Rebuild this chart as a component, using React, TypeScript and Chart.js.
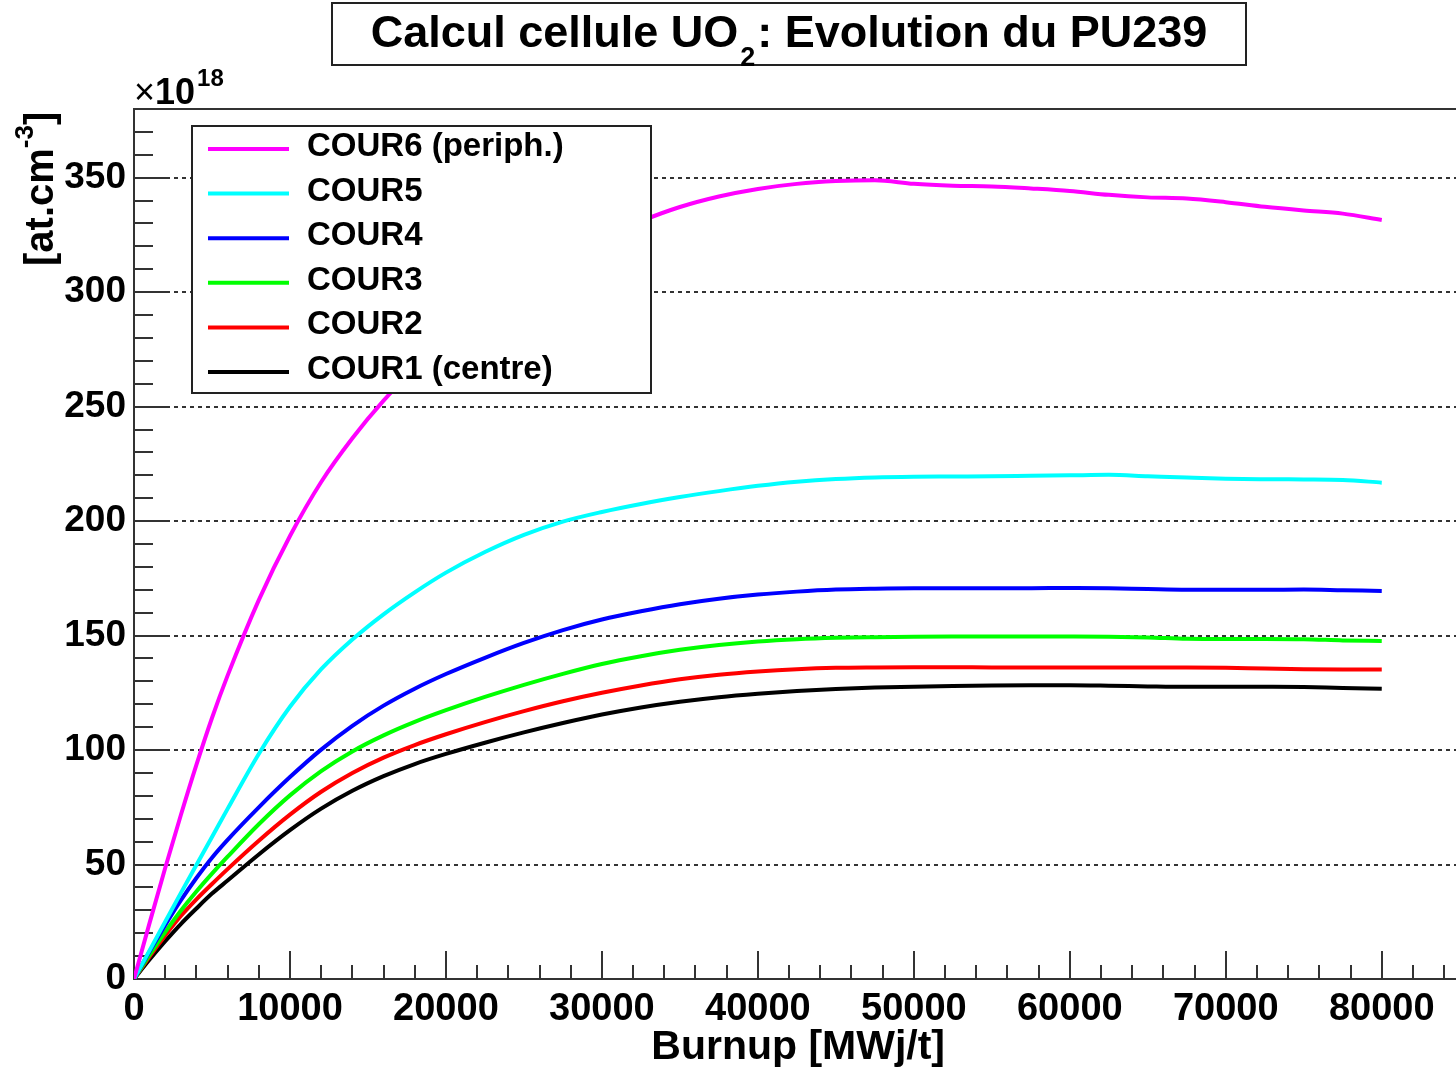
import { useEffect, useRef } from "react";
import { Chart, registerables } from "chart.js";

Chart.register(...registerables);

const FONT = '"Liberation Sans", Arial, Helvetica, sans-serif';

// Burnup grid [MWj/t]
const burnup = [
  0, 1000, 2000, 3000, 4000, 5000, 6000, 8000, 10000, 12000, 14000, 16000, 18000, 20000,
  22500, 25000, 27500, 30000, 32500, 35000, 37500, 40000, 42500, 45000, 47500, 50000,
  52500, 55000, 57500, 60000, 62500, 65000, 67500, 70000, 72500, 75000, 77500, 80000,
];

// Pu239 concentration per ring [1e18 at/cm3]
const cour6 = [
  0, 24.5, 48.5, 71.5, 93.5, 114, 132.5, 165.5, 193.5, 217.1, 236.2, 252.6, 266.8, 279.6, 293,
  305, 315, 323.5, 331, 337.2, 341.8, 345.1, 347.3, 348.5, 348.9, 347.3, 346.5, 346.2, 345.3,
  344.2, 342.5, 341.4, 340.9, 339.3, 337.3, 335.7, 334.3, 331.5,
];
const cour5 = [
  0, 12.5, 25, 37.5, 49.8, 62, 74.3, 98.3, 118.9, 135.3, 148.3, 159.3, 168.9, 177.5, 186.5,
  194, 199.8, 204, 207.5, 210.5, 213.1, 215.4, 217.2, 218.4, 219.1, 219.4, 219.5, 219.6, 219.8,
  220, 220.2, 219.6, 219, 218.5, 218.3, 218.2, 218, 216.8,
];
const cour4 = [
  0, 12, 23.5, 34.3, 44.1, 53, 60.8, 75, 88.2, 100.2, 110.6, 119.4, 126.8, 133.2, 140.3, 146.8,
  152.4, 157, 160.6, 163.7, 166.1, 167.9, 169.2, 170.1, 170.5, 170.7, 170.7, 170.7, 170.7,
  170.8, 170.7, 170.3, 170, 170, 170, 170.1, 169.8, 169.5,
];
const cour3 = [
  0, 10.5, 20.5, 29.8, 38.2, 46, 53.4, 67.6, 80.2, 90.8, 99.4, 106.4, 112.3, 117.4, 123.2,
  128.5, 133.3, 137.6, 141, 143.8, 145.9, 147.4, 148.4, 149, 149.3, 149.5, 149.6, 149.6, 149.6,
  149.6, 149.5, 149.2, 148.6, 148.5, 148.5, 148.4, 147.9, 147.6,
];
const cour2 = [
  0, 9.8, 19, 27.5, 34.8, 41.5, 48, 60.4, 71.8, 81.8, 90, 96.7, 102.2, 106.9, 112.2, 117,
  121.3, 125, 128.2, 130.9, 132.9, 134.3, 135.3, 135.9, 136.1, 136.2, 136.2, 136.1, 136.1,
  136.1, 136.1, 136.1, 136.1, 136, 135.6, 135.3, 135.2, 135.2,
];
const cour1 = [
  0, 8.5, 16.5, 24, 30.8, 37.3, 43, 54.4, 65, 74.4, 82.2, 88.6, 93.9, 98.3, 103.2, 107.7,
  111.8, 115.5, 118.6, 121.1, 123.1, 124.6, 125.8, 126.7, 127.3, 127.7, 128, 128.2, 128.3,
  128.3, 128.1, 127.8, 127.6, 127.6, 127.6, 127.5, 127.1, 126.8,
];

const seriesLabels = ["COUR6 (periph.)", "COUR5", "COUR4", "COUR3", "COUR2", "COUR1 (centre)"];
const seriesColors = ["#ff00ff", "#00ffff", "#0000ff", "#00ff00", "#ff0000", "#000000"];
const seriesValues = [cour6, cour5, cour4, cour3, cour2, cour1];

// labelled axis ticks
const xTickValues = [0, 10000, 20000, 30000, 40000, 50000, 60000, 70000, 80000];
const yTickValues = [0, 50, 100, 150, 200, 250, 300, 350];

const titleMain = "Calcul cellule UO";
const titleSub = "2";
const titleRest = ": Evolution du PU239";
const xTitle = "Burnup [MWj/t]";
const yTitleMain = "[at.cm";
const yTitleSup = "-3";
const yTitleEnd = "]";
const exponentBase = "10";
const exponentPow = "18";

const X_MAX = 84760;
const Y_MAX = 380;
const X_MAJOR = 10000;
const X_MINOR = 2000;
const Y_MAJOR = 50;
const Y_MINOR = 10;

function line(ctx: CanvasRenderingContext2D, x1: number, y1: number, x2: number, y2: number) {
  ctx.beginPath();
  ctx.moveTo(x1, y1);
  ctx.lineTo(x2, y2);
  ctx.stroke();
}

const font = (size: number, weight = "bold") => `${weight} ${size}px ${FONT}`;

const rootFrame = {
  id: "rootFrame",
  beforeDatasetsDraw(chart: any) {
    const { ctx, chartArea: a } = chart;
    const xs = chart.scales.x;
    const ys = chart.scales.y;
    ctx.save();

    // dotted horizontal grid at the labelled y ticks
    ctx.strokeStyle = "#333";
    ctx.lineWidth = 2;
    ctx.setLineDash([4, 4]);
    for (const t of ys.ticks) {
      if (t.value === 0) continue;
      const py = Math.round(ys.getPixelForValue(t.value));
      line(ctx, a.left, py, a.right, py);
    }
    ctx.setLineDash([]);

    // inward ticks
    for (let v = 0; v <= X_MAX; v += X_MINOR) {
      const px = Math.round(xs.getPixelForValue(v));
      const len = v % X_MAJOR === 0 ? 28 : 14;
      line(ctx, px, a.bottom, px, a.bottom - len);
    }
    for (let v = 0; v <= Y_MAX; v += Y_MINOR) {
      const py = Math.round(ys.getPixelForValue(v));
      const len = v % Y_MAJOR === 0 ? 36 : 19;
      line(ctx, a.left, py, a.left + len, py);
    }
    // top edge of the frame
    line(ctx, a.left, a.top, a.right, a.top);
    ctx.restore();
  },
  afterDraw(chart: any) {
    const { ctx, chartArea: a } = chart;
    ctx.save();

    // legend box
    const lx = a.left + 58;
    const ly = a.top + 17;
    const lw = 459;
    const lh = 267;
    ctx.fillStyle = "#fff";
    ctx.fillRect(lx, ly, lw, lh);
    ctx.strokeStyle = "#222";
    ctx.lineWidth = 2;
    ctx.strokeRect(lx, ly, lw, lh);
    chart.data.datasets.forEach((ds: any, i: number) => {
      const ry = ly + 23 + i * 44.6;
      ctx.strokeStyle = ds.borderColor;
      ctx.lineWidth = 4;
      line(ctx, lx + 16, ry, lx + 97, ry);
      ctx.fillStyle = "#000";
      ctx.font = font(33);
      ctx.textAlign = "left";
      ctx.textBaseline = "middle";
      ctx.fillText(ds.label, lx + 115, ry - 2);
    });

    // title box
    const tx = 332;
    const ty = 3;
    const tw = 914;
    const th = 62;
    ctx.fillStyle = "#fff";
    ctx.fillRect(tx, ty, tw, th);
    ctx.strokeStyle = "#222";
    ctx.lineWidth = 2;
    ctx.strokeRect(tx, ty, tw, th);
    ctx.fillStyle = "#000";
    ctx.textBaseline = "alphabetic";
    ctx.textAlign = "left";
    ctx.font = font(45);
    const w1 = ctx.measureText(titleMain).width;
    const w3 = ctx.measureText(titleRest).width;
    ctx.font = font(27);
    const w2 = ctx.measureText(titleSub).width + 4;
    let cx = tx + tw / 2 - (w1 + w2 + w3) / 2;
    ctx.font = font(45);
    ctx.fillText(titleMain, cx, 47);
    cx += w1;
    ctx.font = font(27);
    ctx.fillText(titleSub, cx + 2, 66);
    cx += w2;
    ctx.font = font(45);
    ctx.fillText(titleRest, cx, 47);

    // x axis title, right aligned
    ctx.font = font(41);
    ctx.textAlign = "right";
    ctx.fillText(xTitle, 945, 1059);

    // y axis title, rotated
    ctx.save();
    ctx.translate(53, 266);
    ctx.rotate(-Math.PI / 2);
    ctx.textAlign = "left";
    ctx.font = font(40);
    ctx.fillText(yTitleMain, 0, 0);
    let yx = ctx.measureText(yTitleMain).width;
    ctx.font = font(26);
    ctx.fillText(yTitleSup, yx, -20);
    yx += ctx.measureText(yTitleSup).width;
    ctx.font = font(40);
    ctx.fillText(yTitleEnd, yx, 0);
    ctx.restore();

    // exponent label of the y axis
    ctx.textAlign = "left";
    ctx.font = font(36, "normal");
    ctx.fillText("\u00d7", a.left, 104);
    const mx = ctx.measureText("\u00d7").width;
    ctx.font = font(36);
    ctx.fillText(exponentBase, a.left + mx, 104);
    const bx = ctx.measureText(exponentBase).width;
    ctx.font = font(24);
    ctx.fillText(exponentPow, a.left + mx + bx + 2, 86);

    ctx.restore();
  },
};

export default function App() {
  const canvasRef = useRef<HTMLCanvasElement | null>(null);

  useEffect(() => {
    const canvas = canvasRef.current;
    if (!canvas) return;
    const chart = new Chart(canvas, {
      type: "line",
      data: {
        datasets: seriesValues.map((vals, i) => ({
          label: seriesLabels[i],
          data: burnup.map((b, k) => ({ x: b, y: vals[k] })),
          borderColor: seriesColors[i],
          backgroundColor: seriesColors[i],
          borderWidth: 4,
          pointRadius: 0,
          fill: false,
          cubicInterpolationMode: "monotone" as const,
        })),
      },
      options: {
        responsive: false,
        animation: false,
        events: [],
        layout: { padding: { top: 109, right: 0, left: 0, bottom: 0 } },
        plugins: {
          legend: { display: false },
          title: { display: false },
          tooltip: { enabled: false },
        },
        scales: {
          x: {
            type: "linear",
            min: 0,
            max: X_MAX,
            afterBuildTicks: (s: any) => {
              s.ticks = xTickValues.map((v) => ({ value: v }));
            },
            afterFit: (s: any) => {
              s.height = 90;
            },
            grid: { display: false, drawTicks: false },
            border: { display: true, color: "#333", width: 2 },
            ticks: {
              autoSkip: false,
              maxRotation: 0,
              padding: 8,
              color: "#000",
              font: { family: FONT, size: 38, weight: "bold" },
              callback: (v: any) => String(v),
            },
          },
          y: {
            type: "linear",
            min: 0,
            max: Y_MAX,
            afterBuildTicks: (s: any) => {
              s.ticks = yTickValues.map((v) => ({ value: v }));
            },
            afterFit: (s: any) => {
              s.width = 134;
            },
            grid: { display: false, drawTicks: false },
            border: { display: true, color: "#333", width: 2 },
            ticks: {
              autoSkip: false,
              padding: 8,
              color: "#000",
              font: { family: FONT, size: 37, weight: "bold" },
              callback: (v: any) => String(v),
            },
          },
        },
      },
      plugins: [rootFrame],
    });
    return () => chart.destroy();
  }, []);

  return (
    <div style={{ position: "absolute", left: 0, top: 0, width: 1456, height: 1069, background: "#fff" }}>
      <canvas ref={canvasRef} width={1456} height={1069} />
    </div>
  );
}
